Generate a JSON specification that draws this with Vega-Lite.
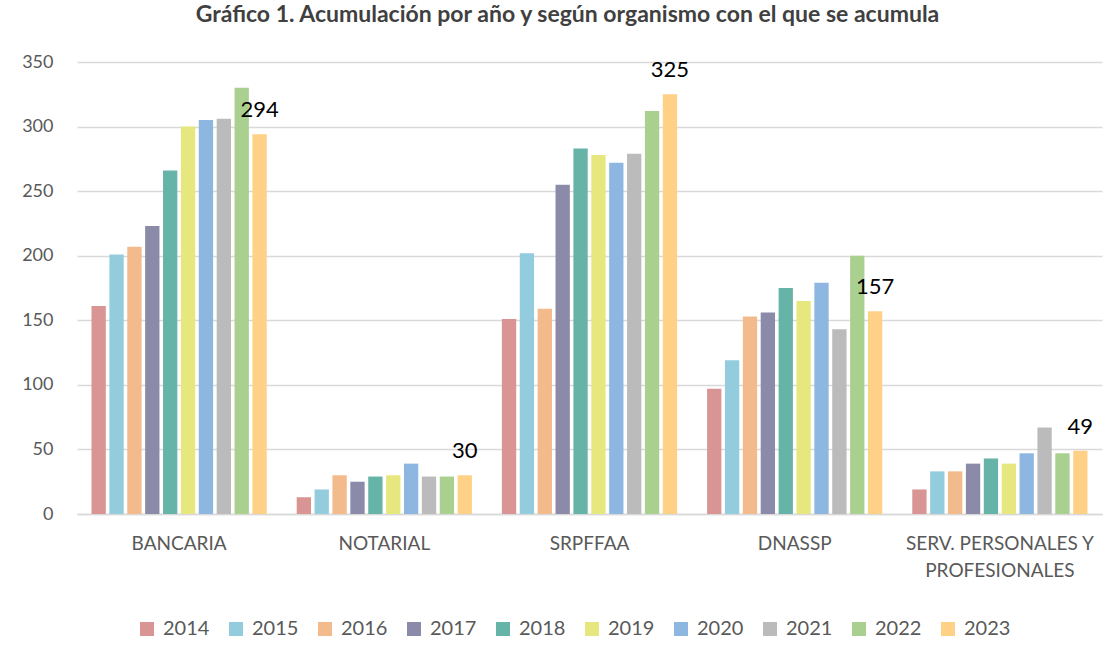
{
  "$schema": "https://vega.github.io/schema/vega-lite/v6.json",
  "autosize": {"type": "none"},
  "width": 1025,
  "height": 452,
  "padding": {"left": 77, "top": 62, "right": 10, "bottom": 141},
  "background": "white",
  "title": {
    "text": "Gráfico 1. Acumulación por año y según organismo con el que se acumula",
    "fontSize": 23,
    "fontWeight": "bold",
    "font": "Lato",
    "color": "#404040",
    "anchor": "middle",
    "baseline": "alphabetic",
    "offset": 8,
    "dx": -22
  },
  "data": {
    "values": [
      {"organismo": "BANCARIA", "year": "2014", "value": 161},
      {"organismo": "BANCARIA", "year": "2015", "value": 201},
      {"organismo": "BANCARIA", "year": "2016", "value": 207},
      {"organismo": "BANCARIA", "year": "2017", "value": 223},
      {"organismo": "BANCARIA", "year": "2018", "value": 266},
      {"organismo": "BANCARIA", "year": "2019", "value": 300},
      {"organismo": "BANCARIA", "year": "2020", "value": 305},
      {"organismo": "BANCARIA", "year": "2021", "value": 306},
      {"organismo": "BANCARIA", "year": "2022", "value": 330},
      {"organismo": "BANCARIA", "year": "2023", "value": 294},
      {"organismo": "NOTARIAL", "year": "2014", "value": 13},
      {"organismo": "NOTARIAL", "year": "2015", "value": 19},
      {"organismo": "NOTARIAL", "year": "2016", "value": 30},
      {"organismo": "NOTARIAL", "year": "2017", "value": 25},
      {"organismo": "NOTARIAL", "year": "2018", "value": 29},
      {"organismo": "NOTARIAL", "year": "2019", "value": 30},
      {"organismo": "NOTARIAL", "year": "2020", "value": 39},
      {"organismo": "NOTARIAL", "year": "2021", "value": 29},
      {"organismo": "NOTARIAL", "year": "2022", "value": 29},
      {"organismo": "NOTARIAL", "year": "2023", "value": 30},
      {"organismo": "SRPFFAA", "year": "2014", "value": 151},
      {"organismo": "SRPFFAA", "year": "2015", "value": 202},
      {"organismo": "SRPFFAA", "year": "2016", "value": 159},
      {"organismo": "SRPFFAA", "year": "2017", "value": 255},
      {"organismo": "SRPFFAA", "year": "2018", "value": 283},
      {"organismo": "SRPFFAA", "year": "2019", "value": 278},
      {"organismo": "SRPFFAA", "year": "2020", "value": 272},
      {"organismo": "SRPFFAA", "year": "2021", "value": 279},
      {"organismo": "SRPFFAA", "year": "2022", "value": 312},
      {"organismo": "SRPFFAA", "year": "2023", "value": 325},
      {"organismo": "DNASSP", "year": "2014", "value": 97},
      {"organismo": "DNASSP", "year": "2015", "value": 119},
      {"organismo": "DNASSP", "year": "2016", "value": 153},
      {"organismo": "DNASSP", "year": "2017", "value": 156},
      {"organismo": "DNASSP", "year": "2018", "value": 175},
      {"organismo": "DNASSP", "year": "2019", "value": 165},
      {"organismo": "DNASSP", "year": "2020", "value": 179},
      {"organismo": "DNASSP", "year": "2021", "value": 143},
      {"organismo": "DNASSP", "year": "2022", "value": 200},
      {"organismo": "DNASSP", "year": "2023", "value": 157},
      {"organismo": "SERV. PERSONALES Y PROFESIONALES", "year": "2014", "value": 19},
      {"organismo": "SERV. PERSONALES Y PROFESIONALES", "year": "2015", "value": 33},
      {"organismo": "SERV. PERSONALES Y PROFESIONALES", "year": "2016", "value": 33},
      {"organismo": "SERV. PERSONALES Y PROFESIONALES", "year": "2017", "value": 39},
      {"organismo": "SERV. PERSONALES Y PROFESIONALES", "year": "2018", "value": 43},
      {"organismo": "SERV. PERSONALES Y PROFESIONALES", "year": "2019", "value": 39},
      {"organismo": "SERV. PERSONALES Y PROFESIONALES", "year": "2020", "value": 47},
      {"organismo": "SERV. PERSONALES Y PROFESIONALES", "year": "2021", "value": 67},
      {"organismo": "SERV. PERSONALES Y PROFESIONALES", "year": "2022", "value": 47},
      {"organismo": "SERV. PERSONALES Y PROFESIONALES", "year": "2023", "value": 49}
    ]
  },
  "encoding": {
    "x": {
      "field": "organismo",
      "type": "nominal",
      "sort": null,
      "scale": {"paddingInner": 0.146, "paddingOuter": 0.0707},
      "axis": {
        "title": null,
        "labelAngle": 0,
        "ticks": false,
        "tickSize": 0,
        "domainColor": "#D9D9D9",
        "domainWidth": 1.5,
        "labelFont": "Lato",
        "labelFontSize": 19,
        "labelColor": "#595959",
        "labelPadding": 20,
        "labelBaseline": "top",
        "labelLineHeight": 27,
        "labelLimit": 400,
        "labelExpr": "datum.label == 'SERV. PERSONALES Y PROFESIONALES' ? ['SERV. PERSONALES Y', 'PROFESIONALES'] : datum.label"
      }
    },
    "xOffset": {
      "field": "year",
      "type": "nominal",
      "scale": {"domain": ["2014","2015","2016","2017","2018","2019","2020","2021","2022","2023"], "paddingInner": 0.2, "paddingOuter": 0}
    },
    "y": {
      "field": "value",
      "type": "quantitative",
      "scale": {"domain": [0, 350]},
      "axis": {
        "title": null,
        "values": [0, 50, 100, 150, 200, 250, 300, 350],
        "domain": false,
        "ticks": false,
        "tickSize": 0,
        "gridColor": "#D9D9D9",
        "gridWidth": 1.5,
        "labelFont": "Lato",
        "labelFontSize": 18,
        "labelColor": "#595959",
        "labelPadding": 24
      }
    }
  },
  "layer": [
    {
      "mark": {"type": "bar"},
      "encoding": {
        "color": {
          "field": "year",
          "type": "nominal",
          "scale": {
            "domain": ["2014","2015","2016","2017","2018","2019","2020","2021","2022","2023"],
            "range": ["#D99594","#93CDDD","#F3BA8B","#8B8AA9","#66B3A7","#E6E87F","#8DB7E0","#BBBBBB","#A9D08E","#FFD186"]
          },
          "legend": {
            "title": null,
            "orient": "none",
            "direction": "horizontal",
            "legendX": 60,
            "legendY": 557,
            "symbolType": "square",
            "symbolSize": 196,
            "symbolStrokeWidth": 0,
            "symbolOpacity": 1,
            "labelFont": "Lato",
            "labelFontSize": 20,
            "labelColor": "#595959",
            "labelOffset": 6,
            "columnPadding": 16,
            "padding": 0
          }
        }
      }
    },
    {
      "transform": [{"filter": "datum.year == '2023'"}],
      "mark": {"type": "text", "baseline": "alphabetic", "dy": -17, "font": "Lato", "fontSize": 22, "color": "#000000"},
      "encoding": {
        "text": {"field": "value", "type": "quantitative"}
      }
    }
  ],
  "config": {
    "view": {"stroke": null}
  }
}
